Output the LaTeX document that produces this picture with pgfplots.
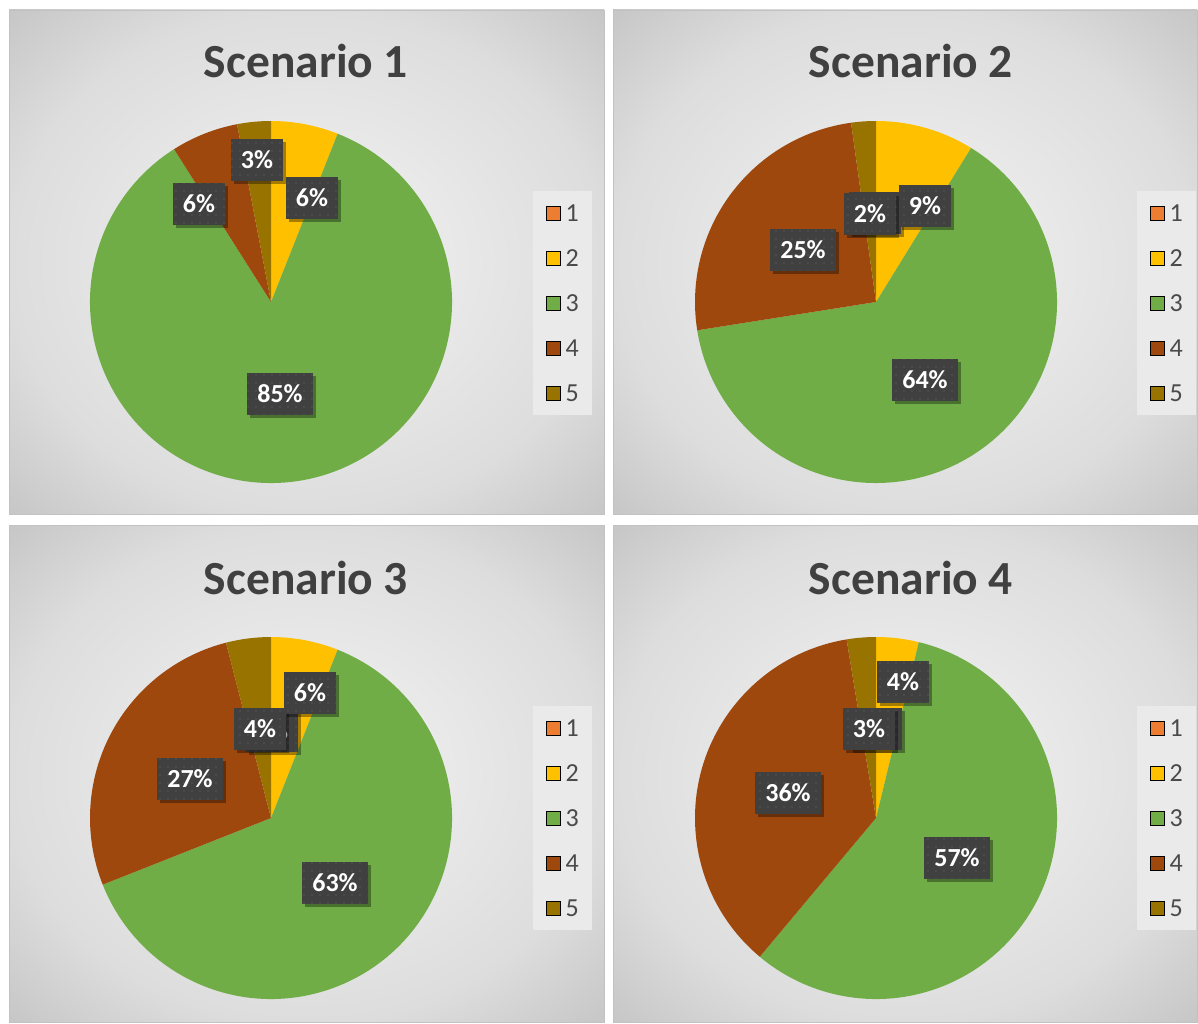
\documentclass[border=0pt]{standalone}
\usepackage{pgfplots}
\pgfplotsset{compat=1.18}
\usepackage{pgfplotstable}
\usepackage{fontspec}
\setmainfont{Carlito}
\usetikzlibrary{shadows,patterns.meta}

\definecolor{col0}{HTML}{ED7D31}
\definecolor{col1}{HTML}{FFC000}
\definecolor{col2}{HTML}{70AD47}
\definecolor{col3}{HTML}{9E480E}
\definecolor{col4}{HTML}{997300}
\definecolor{titlegray}{HTML}{404040}
\definecolor{leggray}{HTML}{4A4A4A}
\definecolor{legbg}{HTML}{EAEAEA}
\definecolor{lblbox}{HTML}{404040}
\definecolor{lbldot}{HTML}{555555}
\definecolor{bordergray}{HTML}{C2C2C2}
\definecolor{bgA}{HTML}{F4F4F4}
\definecolor{bgB}{HTML}{DDDDDD}
\definecolor{bgC}{HTML}{C6C6C6}
\pgfdeclareradialshading{panelbg}{\pgfpoint{0bp}{0bp}}{color(0bp)=(bgA); color(25bp)=(bgB); color(35.5bp)=(bgC); color(50bp)=(bgC)}

\pgfplotstableread{
cat s1 s2 s3 s4
1 0 0 0 0
2 6 8.8 6 3.8
3 85 63.7 63 57.3
4 6 25.3 27 36.3
5 3 2.2 4 2.6
}\piedata

\tikzset{lbl/.style={fill=lblbox, text=white, font=\bfseries\fontsize{26}{26}\selectfont,
  inner xsep=10pt, inner ysep=12.5pt, text height=16.7pt, text depth=0pt,
  drop shadow={shadow xshift=3pt, shadow yshift=-3pt, opacity=0.35, fill=black},
  postaction={pattern={Dots[radius=0.9pt,distance=8pt]}, pattern color=lbldot}}}

\pgfplotsset{panel/.style={anchor=north west, hide axis, x=1pt, y=1pt, clip=false,
  legend style={draw=none, fill=legbg, anchor=north west,
    font=\fontsize{26}{26}\selectfont, text=leggray,
    inner xsep=13pt, inner ysep=13.5pt, row sep=28pt, column sep=5pt,
    nodes={inner sep=0pt, text height=17pt, text depth=0pt}},
  legend image code/.code={\fill[##1] (0pt,-7pt) rectangle (14pt,7pt);},
  legend cell align=left}}

\newcommand\drawpie[1]{%
  \def\cum{0}%
  \pgfplotsforeachungrouped \i in {0,1,2,3,4}{%
    \pgfplotstablegetelem{\i}{#1}\of\piedata
    \pgfmathsetmacro\angA{\cum*3.6}%
    \pgfmathsetmacro\cum{\cum+\pgfplotsretval}%
    \pgfmathsetmacro\angB{\cum*3.6}%
    \pgfmathsetmacro\px{181*sin(\angA)}%
    \pgfmathsetmacro\py{181*cos(\angA)}%
    \pgfmathsetmacro\sa{90-\angA}%
    \pgfmathsetmacro\ea{90-\angB}%
    \edef\temp{\noexpand\fill[col\i] (axis cs:0,0) -- (axis cs:\px,\py) arc[start angle=\sa, end angle=\ea, radius=181pt] -- cycle;}%
    \temp
  }%
}

\newcommand\panelbody[2]{%
  \shade[shading=panelbg] (rel axis cs:0,0) rectangle (rel axis cs:1,1);
  \draw[bordergray, line width=0.7pt] (rel axis cs:0,0) rectangle (rel axis cs:1,1);
  \drawpie{#1}
  \node[anchor=base, text=titlegray, font=\bfseries\fontsize{47.5}{57}\selectfont] at (axis cs:35,224) {#2};
  \addlegendimage{fill=col0}\addlegendentry{1}
  \addlegendimage{fill=col1}\addlegendentry{2}
  \addlegendimage{fill=col2}\addlegendentry{3}
  \addlegendimage{fill=col3}\addlegendentry{4}
  \addlegendimage{fill=col4}\addlegendentry{5}
}
\newcommand\lbl[3]{\node[lbl] at (axis cs:#1,#2) {#3};}

\begin{document}
\begin{tikzpicture}[x=1pt,y=1pt]
\fill[white] (0,0) rectangle (1198,-1023);

\begin{axis}[panel, at={(9pt,-10pt)}, xmin=-262, xmax=333, ymin=-212, ymax=292,
  legend style={at={(axis cs:262,111)}}]
  \panelbody{s1}{Scenario 1}
  \lbl{-14}{142}{3\%}
  \lbl{-72}{98}{6\%}
  \lbl{41}{104}{6\%}
  \lbl{9}{-92}{85\%}
\end{axis}

\begin{axis}[panel, at={(613pt,-10pt)}, xmin=-263, xmax=321, ymin=-212, ymax=292,
  legend style={at={(axis cs:261,111)}}]
  \panelbody{s2}{Scenario 2}
  \lbl{-1}{89}{0\%}
  \lbl{-6}{88}{2\%}
  \lbl{49}{96}{9\%}
  \lbl{-73}{52}{25\%}
  \lbl{49}{-78}{64\%}
\end{axis}

\begin{axis}[panel, at={(9pt,-525pt)}, xmin=-262, xmax=333, ymin=-204, ymax=293,
  legend style={at={(axis cs:262,112)}}]
  \panelbody{s3}{Scenario 3}
  \lbl{1}{87}{0\%}
  \lbl{-11}{89}{4\%}
  \lbl{39}{125}{6\%}
  \lbl{-81}{39}{27\%}
  \lbl{64}{-65}{63\%}
\end{axis}

\begin{axis}[panel, at={(613pt,-525pt)}, xmin=-263, xmax=321, ymin=-204, ymax=293,
  legend style={at={(axis cs:261,112)}}]
  \panelbody{s4}{Scenario 4}
  \lbl{0}{89}{0\%}
  \lbl{-7}{89}{3\%}
  \lbl{27}{136}{4\%}
  \lbl{-88}{25}{36\%}
  \lbl{81}{-40}{57\%}
\end{axis}
\end{tikzpicture}
\end{document}
